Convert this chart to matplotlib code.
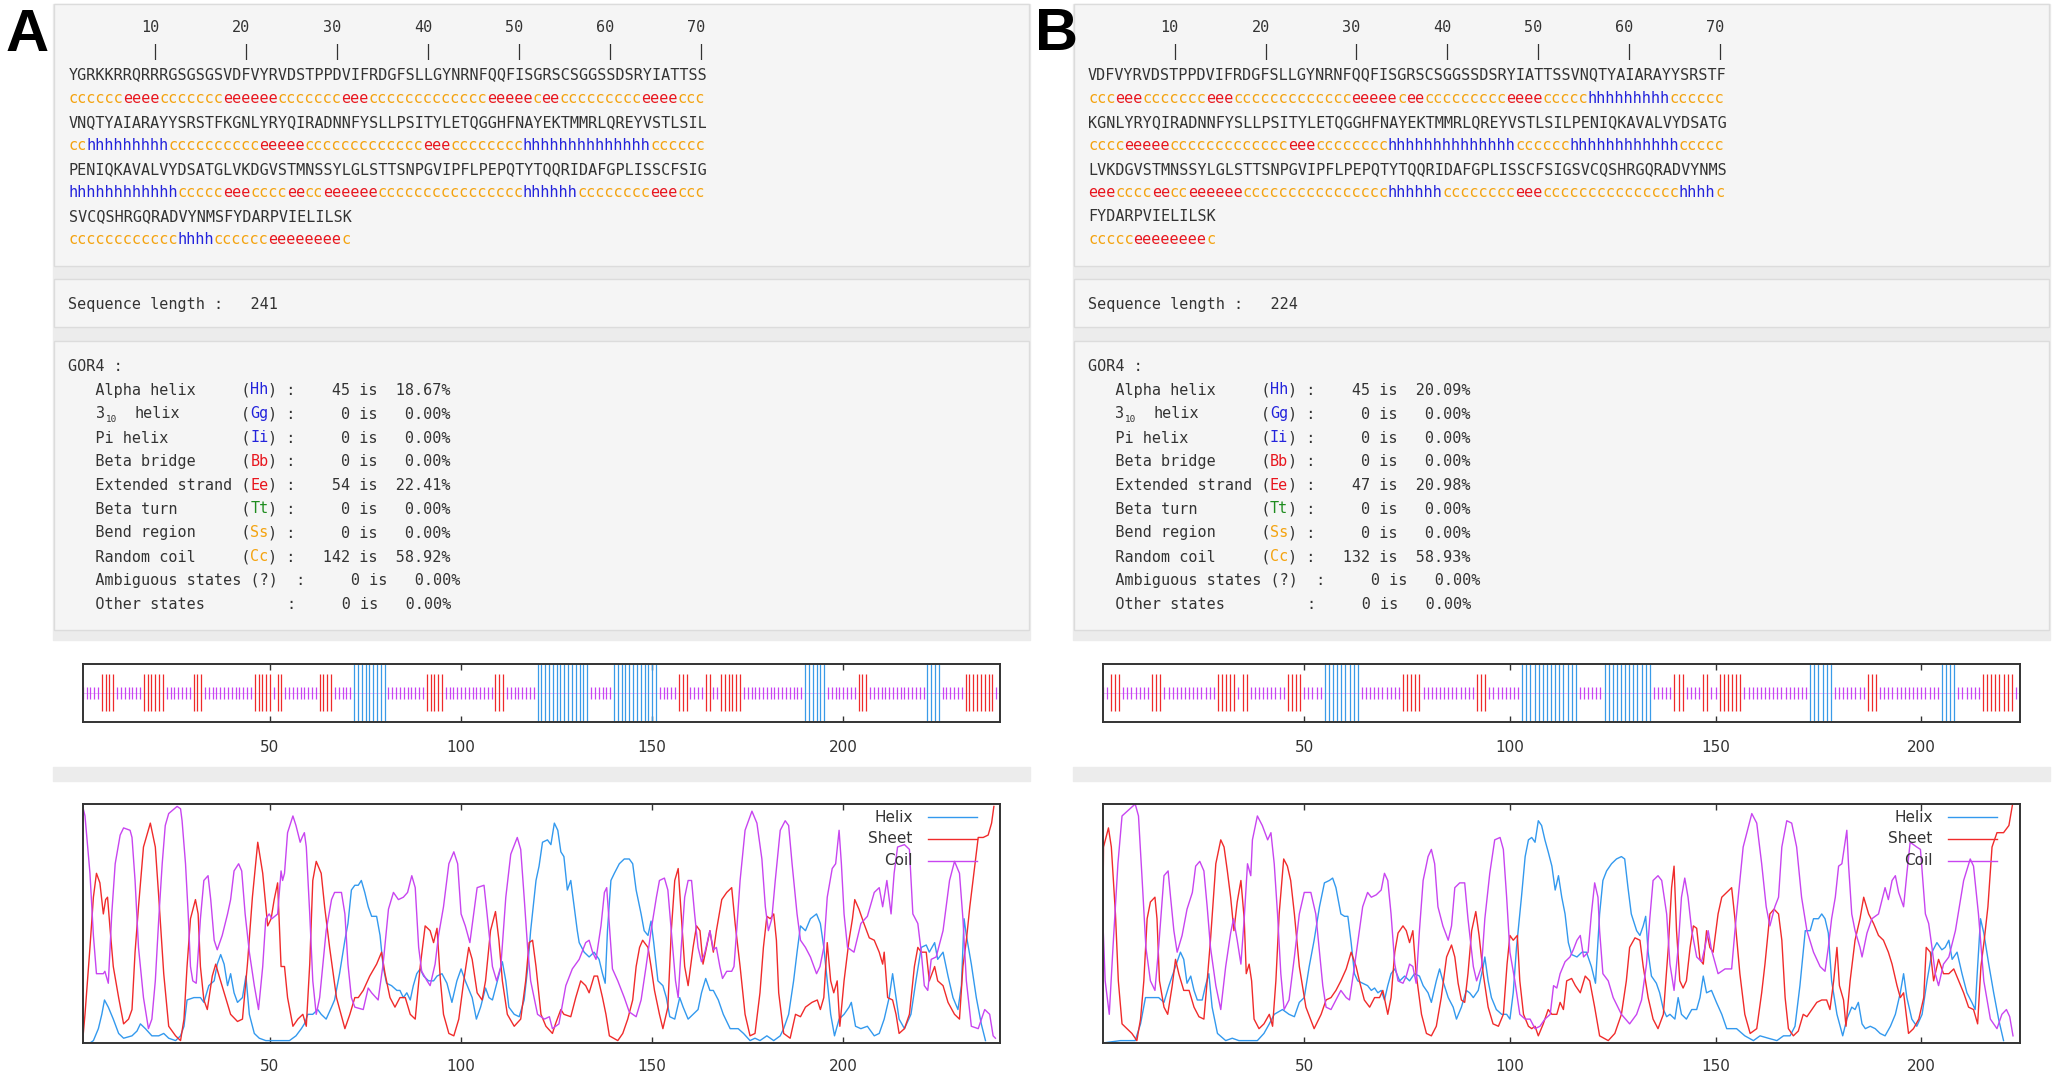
import matplotlib
matplotlib.use("Agg")
import matplotlib.pyplot as plt
from matplotlib.patches import Rectangle

# GOR4 secondary structure output, two constructs side by side
W, H = 2055, 1075

# ---------------- data ----------------
seq_a = ("YGRKKRRQRRRGSGSGSVDFVYRVDSTPPDVIFRDGFSLLGYNRNFQQFISGRSCSGGSSDSRYIATTSS"
         "VNQTYAIARAYYSRSTFKGNLYRYQIRADNNFYSLLPSITYLETQGGHFNAYEKTMMRLQREYVSTLSIL"
         "PENIQKAVALVYDSATGLVKDGVSTMNSSYLGLSTTSNPGVIPFLPEPQTYTQQRIDAFGPLISSCFSIG"
         "SVCQSHRGQRADVYNMSFYDARPVIELILSK")
seq_b = seq_a[17:]   # construct B lacks the first 17 residues

# predicted states as (state, run length)
pred_a_runs = [("c", 6), ("e", 4), ("c", 7), ("e", 6), ("c", 7), ("e", 3), ("c", 13), ("e", 5),
               ("c", 1), ("e", 2), ("c", 9), ("e", 4), ("c", 3),
               ("c", 2), ("h", 9), ("c", 10), ("e", 5), ("c", 13), ("e", 3), ("c", 8), ("h", 14), ("c", 6),
               ("h", 12), ("c", 5), ("e", 3), ("c", 4), ("e", 2), ("c", 2), ("e", 6), ("c", 16), ("h", 6),
               ("c", 8), ("e", 3), ("c", 3),
               ("c", 12), ("h", 4), ("c", 6), ("e", 8), ("c", 1)]
pred_b_runs = [("c", 3), ("e", 3), ("c", 7), ("e", 3), ("c", 13), ("e", 5), ("c", 1), ("e", 2),
               ("c", 9), ("e", 4), ("c", 5), ("h", 9), ("c", 6),
               ("c", 4), ("e", 5), ("c", 13), ("e", 3), ("c", 8), ("h", 14), ("c", 6), ("h", 12), ("c", 5),
               ("e", 3), ("c", 4), ("e", 2), ("c", 2), ("e", 6), ("c", 16), ("h", 6), ("c", 8), ("e", 3),
               ("c", 15), ("h", 4), ("c", 1),
               ("c", 5), ("e", 8), ("c", 1)]

gor_names = ["Alpha helix", "3_10 helix", "Pi helix", "Beta bridge", "Extended strand",
             "Beta turn", "Bend region", "Random coil"]
gor_codes = ["Hh", "Gg", "Ii", "Bb", "Ee", "Tt", "Ss", "Cc"]
counts_a = [45, 0, 0, 0, 54, 0, 0, 142, 0, 0]
pct_a = [18.67, 0.00, 0.00, 0.00, 22.41, 0.00, 0.00, 58.92, 0.00, 0.00]
counts_b = [45, 0, 0, 0, 47, 0, 0, 132, 0, 0]
pct_b = [20.09, 0.00, 0.00, 0.00, 20.98, 0.00, 0.00, 58.93, 0.00, 0.00]

# probability curves: (residue, probability)
helix_a = [(1, 0.0), (2.9, 0.0), (3.8, 0.01), (5.1, 0.06), (6.0, 0.12), (6.7, 0.18), (7.7, 0.15), (9.0, 0.1),
           (10.4, 0.04), (11.7, 0.02), (13.9, 0.03), (15.2, 0.05), (16.1, 0.08), (17.4, 0.06), (19.1, 0.03),
           (20.9, 0.03), (22.2, 0.04), (23.5, 0.02), (25.3, 0.01), (26.6, 0.03), (27.5, 0.07), (28.3, 0.18),
           (30.1, 0.19), (31.8, 0.19), (32.7, 0.17), (34.0, 0.24), (35.4, 0.26), (36.2, 0.33), (37.1, 0.37),
           (38.0, 0.33), (38.9, 0.24), (39.7, 0.29), (40.6, 0.21), (41.5, 0.17), (42.8, 0.19), (43.7, 0.28),
           (44.6, 0.12), (45.9, 0.04), (47.2, 0.02), (48.9, 0.01), (51.6, 0.01), (55.1, 0.01), (56.8, 0.03),
           (58.2, 0.06), (59.0, 0.08), (59.9, 0.12), (61.2, 0.12), (62.5, 0.14), (63.4, 0.12), (64.7, 0.1),
           (66.1, 0.15), (66.9, 0.18), (68.2, 0.29), (69.6, 0.43), (70.4, 0.5), (71.3, 0.64), (72.2, 0.66),
           (73.1, 0.66), (73.9, 0.68), (74.8, 0.63), (75.7, 0.57), (76.6, 0.53), (77.9, 0.53), (78.8, 0.45),
           (79.6, 0.32), (80.5, 0.25), (81.8, 0.24), (83.2, 0.22), (84.0, 0.22), (84.9, 0.19), (85.8, 0.21),
           (86.7, 0.18), (87.5, 0.24), (88.4, 0.29), (89.3, 0.31), (90.2, 0.28), (91.5, 0.26), (92.8, 0.26),
           (93.7, 0.28), (95.0, 0.29), (96.3, 0.25), (97.6, 0.17), (98.9, 0.26), (100.0, 0.31), (101.1, 0.26),
           (102.9, 0.19), (104.0, 0.1), (105.1, 0.15), (106.4, 0.23), (107.3, 0.19), (108.2, 0.18),
           (109.5, 0.26), (110.8, 0.34), (111.7, 0.26), (112.5, 0.15), (113.9, 0.12), (115.2, 0.11),
           (116.5, 0.18), (117.4, 0.31), (118.2, 0.47), (119.6, 0.68), (120.4, 0.74), (121.3, 0.84),
           (122.6, 0.85), (123.5, 0.83), (124.4, 0.92), (125.3, 0.89), (126.1, 0.8), (126.9, 0.78),
           (127.8, 0.64), (128.7, 0.68), (129.6, 0.57), (130.4, 0.47), (130.9, 0.42), (132.2, 0.38),
           (133.5, 0.36), (134.8, 0.38), (136.1, 0.35), (137.0, 0.29), (137.7, 0.25), (138.3, 0.47),
           (139.2, 0.68), (140.1, 0.71), (141.4, 0.75), (142.7, 0.77), (144.0, 0.77), (144.9, 0.75),
           (145.8, 0.64), (147.1, 0.54), (147.9, 0.47), (148.9, 0.45), (149.7, 0.51), (150.4, 0.42),
           (151.5, 0.26), (152.8, 0.24), (153.7, 0.19), (154.6, 0.11), (155.9, 0.1), (157.2, 0.19),
           (158.1, 0.15), (159.4, 0.1), (160.7, 0.12), (162.0, 0.14), (162.9, 0.21), (164.0, 0.27),
           (165.1, 0.22), (166.0, 0.22), (167.3, 0.18), (168.6, 0.12), (170.4, 0.06), (172.5, 0.06),
           (173.9, 0.04), (175.6, 0.01), (176.9, 0.02), (178.2, 0.01), (180.0, 0.03), (181.8, 0.01),
           (183.5, 0.03), (184.4, 0.06), (185.7, 0.12), (187.0, 0.26), (187.9, 0.38), (188.8, 0.49),
           (190.1, 0.47), (191.4, 0.52), (193.0, 0.54), (194.0, 0.5), (194.9, 0.4), (195.8, 0.26),
           (196.7, 0.12), (197.7, 0.03), (198.9, 0.1), (200.2, 0.12), (201.5, 0.15), (202.1, 0.17),
           (203.2, 0.07), (204.6, 0.06), (206.3, 0.07), (208.1, 0.03), (209.4, 0.04), (210.7, 0.1),
           (212.0, 0.19), (212.9, 0.29), (213.8, 0.19), (214.6, 0.1), (216.0, 0.06), (217.7, 0.12),
           (219.0, 0.26), (220.4, 0.4), (221.7, 0.41), (222.5, 0.38), (223.9, 0.42), (224.7, 0.35),
           (226.1, 0.38), (227.4, 0.28), (228.7, 0.19), (230.0, 0.14), (230.9, 0.24), (231.6, 0.52),
           (232.2, 0.45), (233.5, 0.33), (234.8, 0.19), (236.1, 0.08), (237.2, 0.01)]
sheet_a = [(1, 0.01), (1.6, 0.12), (2.9, 0.4), (3.8, 0.61), (4.6, 0.71), (5.5, 0.67), (6.4, 0.54), (7.0, 0.6),
           (7.5, 0.61), (8.2, 0.47), (9.0, 0.32), (10.4, 0.19), (11.7, 0.08), (13.0, 0.1), (13.9, 0.14),
           (14.7, 0.38), (15.6, 0.57), (16.9, 0.82), (18.7, 0.92), (20.0, 0.82), (20.9, 0.61), (22.2, 0.29),
           (23.5, 0.07), (25.3, 0.03), (26.6, 0.01), (27.5, 0.1), (28.3, 0.32), (29.2, 0.52), (30.5, 0.6),
           (31.2, 0.54), (31.8, 0.32), (32.7, 0.18), (33.6, 0.14), (34.9, 0.28), (35.8, 0.33), (36.7, 0.28),
           (38.0, 0.21), (39.7, 0.12), (41.5, 0.09), (42.8, 0.1), (44.1, 0.33), (45.4, 0.61), (46.8, 0.84),
           (48.1, 0.71), (49.4, 0.49), (50.3, 0.52), (51.1, 0.6), (52.0, 0.67), (52.9, 0.32), (53.8, 0.32),
           (54.6, 0.19), (56.0, 0.07), (57.3, 0.1), (58.6, 0.12), (59.5, 0.07), (60.4, 0.33), (61.2, 0.68),
           (62.1, 0.76), (63.4, 0.71), (64.3, 0.57), (65.6, 0.4), (67.4, 0.19), (69.6, 0.06), (70.9, 0.12),
           (72.2, 0.19), (73.1, 0.19), (74.4, 0.22), (76.1, 0.28), (77.9, 0.33), (79.2, 0.38), (80.1, 0.29),
           (81.4, 0.19), (82.7, 0.15), (84.0, 0.19), (85.4, 0.19), (86.7, 0.12), (88.0, 0.1), (89.3, 0.32),
           (90.6, 0.49), (91.9, 0.47), (92.8, 0.42), (93.7, 0.48), (94.6, 0.26), (95.4, 0.12), (96.8, 0.04),
           (98.1, 0.03), (99.4, 0.1), (100.7, 0.26), (102.0, 0.4), (102.9, 0.35), (104.2, 0.21), (105.5, 0.18),
           (106.4, 0.26), (107.7, 0.47), (109.0, 0.55), (109.9, 0.43), (110.8, 0.26), (112.1, 0.12),
           (113.9, 0.07), (115.6, 0.1), (116.9, 0.26), (117.8, 0.42), (118.7, 0.43), (119.6, 0.32),
           (120.9, 0.12), (122.2, 0.07), (123.9, 0.04), (124.7, 0.08), (126.1, 0.14), (126.9, 0.12),
           (128.7, 0.11), (130.0, 0.19), (131.3, 0.26), (132.6, 0.24), (133.5, 0.21), (134.8, 0.28),
           (135.7, 0.28), (137.0, 0.19), (137.9, 0.12), (138.8, 0.03), (141.0, 0.01), (142.3, 0.04),
           (143.6, 0.1), (144.9, 0.18), (145.8, 0.32), (146.7, 0.4), (147.5, 0.43), (148.9, 0.4),
           (149.7, 0.32), (150.6, 0.22), (151.9, 0.12), (152.8, 0.06), (154.1, 0.15), (155.0, 0.47),
           (155.9, 0.68), (156.8, 0.73), (157.6, 0.54), (158.5, 0.32), (159.4, 0.24), (160.7, 0.4),
           (161.6, 0.49), (162.5, 0.47), (163.3, 0.33), (164.2, 0.4), (165.1, 0.47), (166.0, 0.38),
           (166.8, 0.47), (168.2, 0.6), (169.5, 0.63), (170.8, 0.65), (171.7, 0.5), (173.0, 0.32),
           (174.3, 0.12), (175.6, 0.03), (176.9, 0.04), (178.2, 0.21), (179.1, 0.4), (180.0, 0.53),
           (180.9, 0.52), (181.8, 0.54), (182.5, 0.43), (183.1, 0.21), (184.4, 0.04), (186.1, 0.02),
           (187.5, 0.12), (188.8, 0.11), (190.1, 0.15), (191.8, 0.17), (193.2, 0.18), (194.0, 0.14),
           (194.9, 0.19), (195.8, 0.42), (196.7, 0.26), (197.5, 0.21), (198.4, 0.26), (199.1, 0.07),
           (200.2, 0.26), (201.5, 0.43), (202.4, 0.52), (203.0, 0.6), (204.1, 0.56), (205.4, 0.5),
           (206.8, 0.44), (208.1, 0.43), (209.4, 0.38), (210.3, 0.33), (210.7, 0.38), (211.6, 0.19),
           (212.9, 0.18), (213.8, 0.12), (214.6, 0.04), (216.0, 0.06), (217.3, 0.12), (218.6, 0.32),
           (219.5, 0.4), (220.4, 0.38), (221.7, 0.38), (222.5, 0.26), (223.9, 0.32), (224.7, 0.26),
           (226.1, 0.24), (227.4, 0.17), (229.1, 0.12), (230.4, 0.1), (231.3, 0.32), (232.2, 0.43),
           (233.1, 0.57), (234.4, 0.74), (235.3, 0.86), (236.6, 0.86), (237.9, 0.87), (238.8, 0.92),
           (239.4, 0.99)]
coil_a = [(1, 0.99), (1.6, 0.95), (2.9, 0.71), (3.8, 0.45), (4.6, 0.29), (6.4, 0.29), (6.8, 0.3), (7.7, 0.25),
          (8.6, 0.54), (9.5, 0.75), (10.8, 0.87), (11.7, 0.9), (13.4, 0.89), (13.9, 0.86), (14.7, 0.68),
          (15.6, 0.4), (16.9, 0.19), (18.2, 0.06), (19.1, 0.1), (20.0, 0.26), (20.9, 0.52), (21.8, 0.75),
          (22.6, 0.91), (23.5, 0.96), (25.7, 0.99), (26.6, 0.98), (27.0, 0.93), (27.9, 0.75), (28.6, 0.54),
          (29.2, 0.32), (29.8, 0.26), (30.7, 0.25), (31.8, 0.52), (32.7, 0.68), (33.8, 0.7), (34.5, 0.6),
          (35.4, 0.43), (36.2, 0.39), (37.5, 0.45), (38.9, 0.54), (39.7, 0.6), (40.6, 0.72), (41.8, 0.75),
          (42.6, 0.72), (43.5, 0.54), (44.6, 0.38), (45.9, 0.24), (47.0, 0.14), (48.1, 0.32), (48.9, 0.52),
          (49.8, 0.54), (50.5, 0.52), (52.0, 0.54), (52.9, 0.72), (53.3, 0.68), (53.8, 0.71), (54.6, 0.88),
          (56.0, 0.95), (56.8, 0.91), (57.9, 0.84), (58.4, 0.86), (59.0, 0.88), (59.5, 0.82), (60.4, 0.54),
          (61.2, 0.26), (62.1, 0.12), (63.0, 0.19), (64.7, 0.47), (66.1, 0.6), (66.9, 0.63), (68.7, 0.63),
          (69.6, 0.54), (70.4, 0.33), (71.3, 0.19), (72.2, 0.15), (74.4, 0.14), (75.7, 0.23), (76.6, 0.21),
          (78.3, 0.18), (79.6, 0.33), (81.0, 0.56), (82.3, 0.63), (83.6, 0.6), (84.9, 0.61), (86.0, 0.63),
          (87.1, 0.7), (88.0, 0.65), (88.9, 0.4), (89.7, 0.3), (91.1, 0.26), (91.9, 0.24), (93.2, 0.33),
          (94.1, 0.45), (95.4, 0.57), (96.8, 0.75), (98.1, 0.8), (99.1, 0.75), (100.0, 0.54), (101.1, 0.49),
          (102.3, 0.42), (103.3, 0.54), (104.2, 0.65), (106.0, 0.66), (106.8, 0.54), (108.2, 0.32),
          (109.3, 0.26), (110.4, 0.32), (111.7, 0.61), (113.0, 0.79), (114.7, 0.86), (115.6, 0.81),
          (116.5, 0.61), (117.4, 0.4), (118.2, 0.26), (120.0, 0.12), (121.8, 0.1), (123.1, 0.11),
          (123.9, 0.06), (125.6, 0.08), (127.4, 0.24), (129.1, 0.31), (130.9, 0.35), (132.6, 0.42),
          (133.5, 0.43), (134.4, 0.38), (135.3, 0.35), (136.6, 0.49), (137.5, 0.63), (138.1, 0.65),
          (138.8, 0.49), (139.6, 0.31), (141.0, 0.26), (142.7, 0.19), (144.0, 0.13), (145.8, 0.11),
          (147.1, 0.18), (148.4, 0.32), (149.7, 0.47), (151.1, 0.61), (151.9, 0.68), (153.2, 0.69),
          (154.1, 0.64), (155.0, 0.47), (156.1, 0.26), (156.8, 0.19), (157.6, 0.4), (158.5, 0.61),
          (159.4, 0.68), (160.3, 0.68), (161.1, 0.54), (162.0, 0.4), (162.9, 0.34), (163.8, 0.38),
          (165.1, 0.47), (166.0, 0.39), (166.8, 0.4), (167.7, 0.32), (168.4, 0.27), (169.5, 0.3),
          (170.8, 0.3), (171.4, 0.32), (172.1, 0.47), (173.0, 0.68), (174.3, 0.89), (176.1, 0.97),
          (177.4, 0.92), (178.7, 0.77), (179.6, 0.57), (180.4, 0.47), (181.3, 0.52), (182.2, 0.68),
          (183.5, 0.89), (184.8, 0.93), (185.7, 0.91), (186.6, 0.75), (187.9, 0.54), (188.8, 0.43),
          (190.1, 0.4), (191.4, 0.36), (193.0, 0.29), (193.9, 0.32), (194.9, 0.4), (195.8, 0.61),
          (197.1, 0.73), (198.0, 0.75), (198.9, 0.89), (199.5, 0.75), (200.2, 0.54), (201.1, 0.4),
          (202.8, 0.38), (204.6, 0.5), (206.3, 0.53), (208.1, 0.63), (209.4, 0.65), (210.3, 0.57),
          (211.4, 0.68), (212.5, 0.54), (213.3, 0.71), (214.2, 0.82), (216.0, 0.83), (217.3, 0.81),
          (218.2, 0.54), (219.5, 0.5), (220.4, 0.38), (221.2, 0.24), (222.1, 0.22), (223.0, 0.35),
          (224.3, 0.36), (226.1, 0.47), (227.8, 0.68), (229.1, 0.76), (230.4, 0.71), (231.3, 0.52),
          (232.2, 0.26), (233.5, 0.07), (235.3, 0.06), (237.0, 0.14), (238.3, 0.12), (239.2, 0.03),
          (239.8, 0.02)]

helix_b = [(1, 0.0), (5.3, 0.01), (8.9, 0.01), (10.2, 0.08), (11.4, 0.19), (13.0, 0.19), (14.6, 0.19),
           (15.9, 0.17), (17.1, 0.24), (18.7, 0.32), (19.9, 0.38), (20.7, 0.35), (21.5, 0.25), (22.4, 0.28),
           (23.2, 0.22), (24.0, 0.18), (25.2, 0.18), (26.0, 0.24), (26.8, 0.29), (27.6, 0.15), (28.9, 0.04),
           (30.9, 0.01), (32.5, 0.02), (34.1, 0.01), (36.6, 0.01), (38.6, 0.01), (40.2, 0.04), (41.5, 0.08),
           (42.7, 0.12), (44.7, 0.14), (46.3, 0.12), (47.6, 0.11), (48.8, 0.17), (50.0, 0.19), (51.2, 0.32),
           (52.4, 0.43), (53.7, 0.57), (54.9, 0.67), (56.1, 0.68), (56.9, 0.69), (57.7, 0.65), (58.9, 0.54),
           (59.8, 0.53), (60.6, 0.53), (61.4, 0.42), (62.2, 0.29), (63.0, 0.26), (64.2, 0.25), (65.4, 0.24),
           (66.3, 0.22), (67.1, 0.23), (67.9, 0.21), (68.7, 0.22), (69.5, 0.18), (70.3, 0.24), (71.1, 0.29),
           (72.0, 0.31), (73.2, 0.26), (74.4, 0.28), (75.6, 0.26), (76.8, 0.29), (78.0, 0.28), (78.9, 0.24),
           (80.1, 0.21), (80.9, 0.17), (82.1, 0.26), (82.9, 0.31), (83.7, 0.26), (85.0, 0.19), (86.2, 0.15),
           (87.0, 0.1), (88.2, 0.15), (89.4, 0.22), (90.2, 0.21), (91.1, 0.19), (92.3, 0.22), (93.5, 0.32),
           (93.9, 0.36), (94.7, 0.26), (95.5, 0.19), (96.7, 0.14), (98.0, 0.12), (99.2, 0.12), (100.0, 0.1),
           (100.8, 0.21), (101.6, 0.4), (102.8, 0.61), (103.7, 0.78), (104.5, 0.85), (105.3, 0.86),
           (106.1, 0.84), (106.9, 0.93), (107.7, 0.91), (108.5, 0.85), (109.3, 0.8), (110.2, 0.74),
           (111.0, 0.64), (111.8, 0.7), (112.6, 0.61), (113.4, 0.54), (114.2, 0.42), (115.0, 0.37),
           (116.3, 0.36), (117.5, 0.38), (118.6, 0.38), (119.8, 0.32), (120.8, 0.25), (121.8, 0.54),
           (122.6, 0.68), (123.5, 0.72), (124.7, 0.75), (125.9, 0.77), (127.1, 0.78), (127.9, 0.77),
           (128.7, 0.65), (129.5, 0.54), (130.8, 0.47), (131.6, 0.45), (132.4, 0.49), (133.0, 0.53),
           (133.6, 0.38), (134.4, 0.28), (135.6, 0.25), (136.4, 0.21), (137.3, 0.14), (138.1, 0.11),
           (138.9, 0.12), (140.1, 0.1), (140.9, 0.19), (141.7, 0.12), (142.9, 0.1), (144.2, 0.14),
           (145.4, 0.14), (146.2, 0.19), (147.0, 0.28), (147.8, 0.21), (149.0, 0.22), (150.2, 0.17),
           (151.5, 0.12), (152.7, 0.06), (155.1, 0.06), (157.1, 0.03), (159.2, 0.01), (160.8, 0.03),
           (162.8, 0.02), (164.9, 0.01), (166.5, 0.03), (168.1, 0.03), (169.3, 0.07), (170.5, 0.24),
           (171.8, 0.47), (173.0, 0.47), (173.8, 0.52), (175.0, 0.52), (175.8, 0.54), (176.6, 0.52),
           (177.4, 0.46), (178.2, 0.26), (179.5, 0.12), (180.9, 0.03), (181.9, 0.1), (183.1, 0.15),
           (183.9, 0.14), (184.7, 0.17), (185.6, 0.08), (186.4, 0.06), (187.6, 0.07), (188.8, 0.06),
           (190.0, 0.04), (191.2, 0.03), (192.5, 0.07), (193.7, 0.12), (194.9, 0.21), (195.7, 0.29),
           (196.5, 0.19), (197.7, 0.1), (198.9, 0.07), (200.2, 0.12), (201.4, 0.26), (202.6, 0.38),
           (203.8, 0.42), (205.0, 0.39), (205.8, 0.4), (206.7, 0.43), (207.5, 0.35), (208.7, 0.38),
           (209.9, 0.29), (211.1, 0.21), (212.3, 0.17), (213.1, 0.14), (213.7, 0.32), (214.4, 0.52),
           (215.2, 0.46), (216.4, 0.33), (217.6, 0.21), (218.8, 0.1), (220.0, 0.01)]
sheet_b = [(1, 0.47), (1.2, 0.82), (1.8, 0.86), (2.4, 0.9), (3.1, 0.82), (4.1, 0.54), (4.8, 0.26), (5.7, 0.08),
           (6.9, 0.06), (8.1, 0.04), (9.3, 0.01), (10.2, 0.1), (11.0, 0.26), (11.8, 0.52), (12.6, 0.59),
           (13.7, 0.61), (14.2, 0.52), (14.8, 0.26), (15.9, 0.15), (16.8, 0.12), (17.9, 0.24), (18.7, 0.35),
           (19.5, 0.29), (20.7, 0.22), (22.0, 0.22), (23.2, 0.15), (24.4, 0.11), (25.6, 0.1), (26.4, 0.26),
           (27.2, 0.43), (28.5, 0.75), (29.7, 0.85), (30.5, 0.82), (31.3, 0.72), (32.1, 0.61), (32.9, 0.47),
           (33.7, 0.59), (34.6, 0.68), (35.4, 0.52), (35.9, 0.29), (36.6, 0.33), (37.2, 0.26), (37.8, 0.1),
           (39.0, 0.06), (40.2, 0.08), (41.5, 0.12), (42.3, 0.07), (43.1, 0.26), (43.9, 0.54), (45.0, 0.77),
           (45.9, 0.74), (46.7, 0.68), (47.6, 0.54), (48.8, 0.32), (50.4, 0.15), (52.4, 0.06), (54.1, 0.12),
           (55.3, 0.18), (56.5, 0.19), (57.7, 0.22), (58.9, 0.26), (60.2, 0.31), (61.4, 0.38), (62.6, 0.32),
           (63.4, 0.26), (64.6, 0.18), (65.9, 0.15), (67.1, 0.19), (68.3, 0.19), (69.1, 0.22), (70.3, 0.12),
           (71.1, 0.19), (72.0, 0.38), (72.8, 0.46), (74.0, 0.49), (74.8, 0.47), (75.6, 0.42), (76.4, 0.47),
           (77.2, 0.29), (78.5, 0.12), (79.7, 0.04), (80.9, 0.03), (82.1, 0.07), (83.3, 0.19), (84.6, 0.36),
           (85.8, 0.41), (86.6, 0.36), (87.4, 0.25), (88.2, 0.18), (89.0, 0.17), (89.8, 0.29), (90.7, 0.47),
           (91.7, 0.55), (92.5, 0.45), (93.5, 0.29), (94.7, 0.15), (95.9, 0.08), (97.2, 0.07), (98.4, 0.12),
           (99.3, 0.33), (100.0, 0.45), (100.8, 0.43), (101.8, 0.45), (102.4, 0.26), (103.3, 0.12),
           (104.5, 0.07), (105.3, 0.06), (106.1, 0.07), (106.9, 0.03), (108.1, 0.08), (109.3, 0.14),
           (110.2, 0.12), (111.4, 0.12), (112.2, 0.17), (113.0, 0.14), (113.8, 0.26), (115.0, 0.27),
           (115.9, 0.24), (117.1, 0.21), (118.3, 0.28), (119.4, 0.26), (120.6, 0.15), (121.8, 0.03),
           (123.9, 0.01), (125.5, 0.04), (127.1, 0.12), (128.3, 0.26), (129.1, 0.4), (130.4, 0.44),
           (131.6, 0.43), (132.4, 0.32), (133.6, 0.19), (134.8, 0.1), (136.0, 0.06), (137.3, 0.12),
           (138.5, 0.4), (139.3, 0.65), (139.9, 0.74), (140.5, 0.47), (141.3, 0.26), (142.1, 0.23),
           (142.9, 0.26), (143.8, 0.4), (144.6, 0.49), (145.4, 0.48), (146.2, 0.35), (147.0, 0.33),
           (147.8, 0.47), (148.6, 0.4), (149.4, 0.38), (150.6, 0.54), (151.5, 0.61), (152.7, 0.63),
           (153.9, 0.65), (154.7, 0.52), (155.9, 0.29), (157.1, 0.12), (158.4, 0.04), (160.0, 0.06),
           (161.2, 0.21), (162.0, 0.33), (163.2, 0.54), (164.2, 0.56), (165.3, 0.54), (166.1, 0.43),
           (166.9, 0.19), (167.7, 0.06), (168.9, 0.03), (170.1, 0.05), (171.3, 0.12), (172.2, 0.11),
           (173.4, 0.14), (174.6, 0.17), (175.8, 0.18), (177.0, 0.18), (177.8, 0.14), (178.7, 0.26),
           (179.5, 0.4), (180.1, 0.24), (181.1, 0.18), (181.7, 0.07), (182.7, 0.26), (183.9, 0.43),
           (185.1, 0.52), (186.0, 0.61), (187.2, 0.54), (188.4, 0.5), (189.6, 0.45), (190.8, 0.43),
           (192.0, 0.38), (192.9, 0.33), (194.1, 0.24), (194.9, 0.19), (195.7, 0.21), (196.9, 0.04),
           (198.1, 0.06), (199.4, 0.1), (200.6, 0.19), (201.2, 0.4), (202.2, 0.38), (203.0, 0.26),
           (204.2, 0.35), (205.4, 0.29), (206.7, 0.29), (207.9, 0.31), (209.1, 0.26), (210.3, 0.21),
           (211.5, 0.15), (212.7, 0.14), (213.7, 0.08), (214.5, 0.32), (215.3, 0.43), (216.2, 0.57),
           (217.2, 0.82), (218.4, 0.88), (220.0, 0.88), (221.3, 0.91), (222.2, 1.0)]
coil_b = [(1, 0.53), (1.6, 0.26), (2.6, 0.12), (3.5, 0.4), (4.7, 0.75), (5.7, 0.95), (8.9, 1.0), (9.7, 0.95),
          (10.6, 0.68), (11.5, 0.4), (12.6, 0.26), (13.7, 0.22), (14.6, 0.4), (15.9, 0.7), (16.9, 0.72),
          (17.5, 0.61), (18.3, 0.47), (19.1, 0.38), (20.3, 0.45), (21.5, 0.56), (22.8, 0.63), (23.6, 0.74),
          (24.6, 0.76), (25.6, 0.72), (26.4, 0.57), (27.2, 0.4), (28.5, 0.24), (29.7, 0.14), (30.9, 0.32),
          (32.1, 0.46), (32.8, 0.52), (33.7, 0.43), (34.6, 0.33), (35.4, 0.52), (36.2, 0.75), (37.0, 0.7),
          (37.4, 0.85), (38.6, 0.95), (39.8, 0.91), (41.1, 0.85), (41.9, 0.88), (42.7, 0.75), (43.5, 0.54),
          (44.3, 0.29), (45.1, 0.14), (46.3, 0.18), (47.6, 0.36), (48.8, 0.54), (50.0, 0.63), (51.6, 0.63),
          (52.8, 0.54), (53.7, 0.38), (54.5, 0.24), (55.3, 0.15), (56.5, 0.14), (57.7, 0.18), (58.9, 0.22),
          (60.2, 0.19), (61.0, 0.18), (62.2, 0.32), (63.4, 0.47), (64.2, 0.57), (65.4, 0.63), (66.3, 0.61),
          (67.5, 0.62), (68.7, 0.64), (69.5, 0.71), (70.3, 0.68), (71.1, 0.54), (72.0, 0.33), (72.8, 0.26),
          (74.0, 0.25), (74.8, 0.28), (75.6, 0.33), (76.4, 0.32), (77.2, 0.25), (78.0, 0.47), (78.9, 0.68),
          (80.1, 0.78), (80.9, 0.81), (81.7, 0.75), (82.5, 0.57), (83.7, 0.49), (85.0, 0.43), (85.8, 0.49),
          (86.6, 0.65), (87.8, 0.67), (89.0, 0.67), (89.8, 0.52), (91.1, 0.32), (91.9, 0.26), (93.1, 0.32),
          (93.9, 0.52), (95.1, 0.71), (96.3, 0.85), (97.6, 0.86), (98.4, 0.81), (99.2, 0.61), (100.0, 0.38),
          (101.2, 0.26), (102.4, 0.12), (103.7, 0.1), (104.9, 0.1), (106.1, 0.06), (107.3, 0.07),
          (108.5, 0.1), (109.8, 0.12), (110.6, 0.24), (111.4, 0.23), (112.2, 0.29), (113.4, 0.34),
          (114.6, 0.36), (115.4, 0.39), (116.3, 0.43), (117.1, 0.45), (117.9, 0.36), (119.0, 0.38),
          (119.8, 0.54), (120.6, 0.67), (121.4, 0.61), (121.8, 0.47), (122.6, 0.29), (123.9, 0.26),
          (125.1, 0.19), (127.1, 0.12), (129.1, 0.08), (130.8, 0.12), (132.0, 0.18), (133.2, 0.33),
          (134.0, 0.52), (134.8, 0.68), (136.0, 0.7), (136.9, 0.68), (138.1, 0.54), (138.9, 0.33),
          (139.9, 0.22), (140.9, 0.4), (141.7, 0.61), (142.5, 0.69), (143.3, 0.61), (144.2, 0.47),
          (145.4, 0.36), (146.6, 0.34), (147.4, 0.4), (148.2, 0.47), (149.0, 0.39), (150.6, 0.29),
          (152.3, 0.31), (153.9, 0.31), (154.7, 0.47), (155.5, 0.61), (156.7, 0.82), (158.8, 0.96),
          (160.0, 0.92), (161.2, 0.75), (162.3, 0.57), (163.2, 0.49), (164.4, 0.57), (165.3, 0.61),
          (166.1, 0.82), (167.3, 0.93), (168.5, 0.92), (169.7, 0.82), (170.9, 0.61), (172.2, 0.47),
          (173.8, 0.38), (175.4, 0.32), (176.6, 0.3), (177.4, 0.4), (178.2, 0.52), (179.1, 0.61),
          (179.9, 0.74), (180.7, 0.75), (181.9, 0.89), (182.3, 0.75), (183.1, 0.54), (183.9, 0.47),
          (185.1, 0.4), (185.6, 0.36), (186.8, 0.46), (188.0, 0.52), (189.6, 0.54), (191.2, 0.65),
          (192.0, 0.6), (192.9, 0.68), (193.7, 0.7), (194.5, 0.63), (195.7, 0.57), (196.5, 0.71),
          (197.3, 0.84), (198.9, 0.82), (199.8, 0.81), (201.0, 0.54), (201.8, 0.5), (202.6, 0.4),
          (203.4, 0.29), (204.2, 0.24), (205.4, 0.33), (206.7, 0.36), (208.3, 0.47), (210.3, 0.68),
          (211.9, 0.77), (212.7, 0.74), (213.9, 0.54), (215.2, 0.26), (216.8, 0.1), (218.4, 0.06),
          (219.6, 0.12), (220.7, 0.14), (221.5, 0.11), (222.3, 0.03)]

# ---------------- style ----------------
MONO = "DejaVu Sans Mono"
FS = 10.87          # 9.09 px per character at 100 dpi
CW = 9.09
DARK = "#333333"
TXT_COL = {"c": "#f4a30f", "e": "#e8161e", "h": "#2323dc"}
CODE_COL = {"Hh": "#2323dc", "Gg": "#2323dc", "Ii": "#2323dc", "Bb": "#e8161e",
            "Ee": "#e8161e", "Tt": "#1e8c1e", "Ss": "#f4a30f", "Cc": "#f4a30f"}
BAR_COL = {"h": "#3a9be8", "e": "#ef2a2a", "c": "#c844f2"}
BAR_SPAN = {"c": (0.40, 0.61), "e": (0.19, 0.82), "h": (0.0, 1.0)}
HELIX_C, SHEET_C, COIL_C = "#3399ee", "#f02b2b", "#c845f0"

plt.rcParams["font.family"] = "DejaVu Sans"
fig = plt.figure(figsize=(W / 100, H / 100), dpi=100)
fig.patch.set_facecolor("white")


def rect(x0, y0, x1, y1, face, edge=None):
    fig.patches.append(Rectangle((x0 / W, 1 - y1 / H), (x1 - x0) / W, (y1 - y0) / H,
                                 transform=fig.transFigure, facecolor=face,
                                 edgecolor=edge if edge else face, lw=1, zorder=0))


def put(x, y, s, color=DARK, size=FS, **kw):
    fig.text(x / W, 1 - y / H, s, color=color, fontsize=size, family=MONO,
             va="baseline", ha="left", **kw)


def put_runs(x0, y, parts, col=0):
    for s, c in parts:
        put(x0 + col * CW, y, s, c)
        col += len(s)


def expand(runs):
    return "".join(s * n for s, n in runs)


def text_panel(x0, xl, xr, seq, pred, counts, pct):
    # background column and boxes
    rect(xl - 1, 4, xr + 1, 640, "#ececec")
    rect(xl, 4, xr, 266, "#f5f5f5", "#dcdcdc")
    rect(xl, 279, xr, 327, "#f5f5f5", "#dcdcdc")
    rect(xl, 341, xr, 630, "#f5f5f5", "#dcdcdc")
    rect(xl - 1, 767, xr + 1, 781, "#ececec")

    # ruler
    for k in range(1, 8):
        fig.text((x0 + 10 * k * CW) / W, 1 - 32.2 / H, str(10 * k), color=DARK, fontsize=FS,
                 family=MONO, va="baseline", ha="right")
        fig.text((x0 + (10 * k - 0.5) * CW) / W, 1 - 55.5 / H, "|", color=DARK, fontsize=FS,
                 family=MONO, va="baseline", ha="center")
    # sequence + prediction, 70 per row
    for r in range(0, len(seq), 70):
        row = r // 70
        yb = 79.4 + row * 47.2
        put(x0, yb, seq[r:r + 70])
        chunk = pred[r:r + 70]
        parts = []
        for ch in chunk:
            if parts and parts[-1][1] == TXT_COL[ch]:
                parts[-1][0] += ch
            else:
                parts.append([ch, TXT_COL[ch]])
        put_runs(x0, yb + 23.4, parts)

    put(x0, 308.5, "Sequence length :   %d" % len(seq))
    put(x0, 371.5, "GOR4 :")
    for i in range(10):
        yb = 394.5 + i * 23.8
        tail = " : %5d is  %5.2f%%" % (counts[i], pct[i])
        if i < 8:
            code = gor_codes[i]
            if i == 1:
                put(x0 + 3 * CW, yb, "3")
                put(x0 + 4.1 * CW, yb + 3.5, "10", size=FS * 0.62)
                put(x0 + 7.25 * CW, yb, "helix")
                put_runs(x0, yb, [("(", DARK), (code, CODE_COL[code]), (")" + tail, DARK)], col=19)
            else:
                put_runs(x0, yb, [("   " + gor_names[i].ljust(16) + "(", DARK),
                                  (code, CODE_COL[code]), (")" + tail, DARK)])
        elif i == 8:
            put(x0, yb, "   Ambiguous states (?)  :" + tail[2:])
        else:
            put(x0, yb, "   " + "Other states".ljust(21) + ":" + tail[2:])


def frame_axes(x0, y0, x1, y1, n):
    ax = fig.add_axes([x0 / W, 1 - y1 / H, (x1 - x0) / W, (y1 - y0) / H])
    ax.set_xlim(1, n)
    ax.set_ylim(0, 1)
    ax.set_yticks([])
    ax.set_xticks([50, 100, 150, 200])
    ax.tick_params(axis="x", direction="in", length=4, width=1, top=True, bottom=True,
                   labelsize=11, labelcolor=DARK, color=DARK)
    for sp in ax.spines.values():
        sp.set_color("#333333")
        sp.set_linewidth(1.4)
    return ax


def bar_panel(x0, x1, pred):
    ax = frame_axes(x0, 664, x1, 722, len(pred))
    ax.tick_params(axis="x", pad=13)
    ax.axhline(0.5, color=BAR_COL["c"], lw=0.5, alpha=0.5)
    for state, (lo, hi) in BAR_SPAN.items():
        xs = [i for i, s in enumerate(pred) if s == state]
        ax.vlines(xs, lo, hi, colors=BAR_COL[state], lw=0.9)


def curve_panel(x0, x1, n, helix, sheet, coil):
    ax = frame_axes(x0, 804, x1, 1043, n)
    ax.tick_params(axis="x", pad=11.5)
    for data, col in ((helix, HELIX_C), (sheet, SHEET_C), (coil, COIL_C)):
        xs, ys = zip(*data)
        ax.plot(xs, ys, color=col, lw=1.0)
    for lab, yy, col in (("Helix", 0.944, HELIX_C), ("Sheet", 0.854, SHEET_C), ("Coil", 0.763, COIL_C)):
        ax.text(0.905, yy, lab, transform=ax.transAxes, ha="right", va="center",
                fontsize=11, color=DARK)
        ax.plot([0.921, 0.975], [yy, yy], transform=ax.transAxes, color=col, lw=1.0)


pred_a = expand(pred_a_runs)
pred_b = expand(pred_b_runs)

text_panel(68.5, 54, 1029, seq_a, pred_a, counts_a, pct_a)
text_panel(1088, 1074, 2049, seq_b, pred_b, counts_b, pct_b)

bar_panel(82.7, 1000, pred_a)
bar_panel(1102.7, 2020, pred_b)
curve_panel(82.7, 1000, len(seq_a), helix_a, sheet_a, coil_a)
curve_panel(1102.7, 2020, len(seq_b), helix_b, sheet_b, coil_b)

fig.text(6 / W, 1 - 51 / H, "A", fontsize=43, fontweight="bold", family="Liberation Sans",
         va="baseline", ha="left", color="black")
fig.text(1035 / W, 1 - 50 / H, "B", fontsize=43, fontweight="bold", family="Liberation Sans",
         va="baseline", ha="left", color="black")

fig.savefig("out.png", dpi=100, facecolor="white")
